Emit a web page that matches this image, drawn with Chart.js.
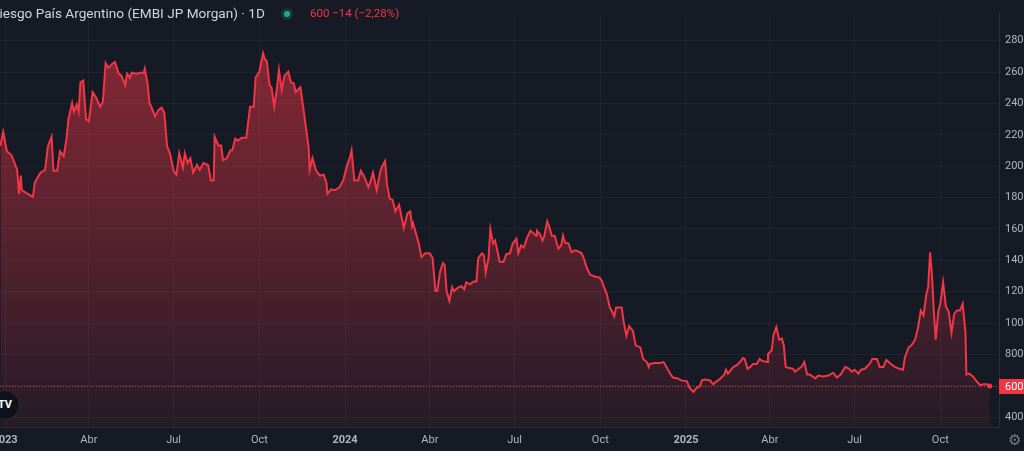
<!DOCTYPE html>
<html lang="es">
<head>
  <meta charset="UTF-8">
  <title>Riesgo País Argentino (EMBI JP Morgan)</title>
  <script src="https://cdn.jsdelivr.net/npm/chart.js"></script>
  <style>
    body { margin: 0; background: #ffffff; overflow: hidden; font-family: Roboto, "Noto Sans", sans-serif; }
    #wrap { position: absolute; left: 0; top: 0; width: 1024px; height: 451px; background: #161a25; overflow: hidden; }
    #lienzo { position: absolute; left: 0; top: 0; width: 1045px; height: 451px; }
    #titulo { position: absolute; left: -9px; top: 5px; font-size: 13.6px; color: #d1d4dc; white-space: nowrap; }
    #punto { position: absolute; left: 281px; top: 8px; width: 12px; height: 12px; border-radius: 50%; background: #123a33; }
    #punto span { position: absolute; left: 3px; top: 3px; width: 6px; height: 6px; border-radius: 50%; background: #22ab94; }
    #precio { position: absolute; left: 310px; top: 6px; font-size: 11.5px; color: #f23645; white-space: nowrap; }
    #logo { position: absolute; left: -10px; top: 390px; width: 28px; height: 28px; border-radius: 50%; background: #0f121a; border: 1px solid #2a2e39; color: #fff; font-weight: bold; font-size: 11px; line-height: 28px; text-align: center; }
    #engranaje { position: absolute; left: 1008px; top: 431px; font-size: 15px; color: #787b86; }
  </style>
</head>
<body>
  <div id="wrap">
    <div id="lienzo"><canvas id="grafico"></canvas></div>
    <div id="titulo">Riesgo País Argentino (EMBI JP Morgan) · 1D</div>
    <div id="punto"><span></span></div>
    <div id="precio">600 −14 (−2,28%)</div>
    <div id="logo">TV</div>
    <div id="engranaje">⚙</div>
  </div>
  <script>
    const fechas = [
      '2022-12-27','2022-12-30','2023-01-03','2023-01-08','2023-01-14','2023-01-16','2023-01-18','2023-01-19','2023-01-24','2023-01-31',
      '2023-02-02','2023-02-08','2023-02-13','2023-02-16','2023-02-20','2023-02-22','2023-02-26','2023-03-01','2023-03-05','2023-03-08',
      '2023-03-10','2023-03-14','2023-03-16','2023-03-19','2023-03-21','2023-03-23','2023-03-26','2023-03-29','2023-04-01','2023-04-05',
      '2023-04-09','2023-04-13','2023-04-16','2023-04-19','2023-04-22','2023-04-26','2023-04-29','2023-05-03','2023-05-06','2023-05-10',
      '2023-05-12','2023-05-15','2023-05-17','2023-05-22','2023-05-26','2023-05-30','2023-05-31','2023-06-03','2023-06-05','2023-06-07',
      '2023-06-11','2023-06-15','2023-06-18','2023-06-21','2023-06-24','2023-06-27','2023-07-01','2023-07-04','2023-07-07','2023-07-11',
      '2023-07-13','2023-07-16','2023-07-19','2023-07-22','2023-07-26','2023-07-29','2023-08-02','2023-08-07','2023-08-10','2023-08-13',
      '2023-08-14','2023-08-18','2023-08-21','2023-08-23','2023-08-27','2023-08-31','2023-09-02','2023-09-05','2023-09-08','2023-09-12',
      '2023-09-17','2023-09-21','2023-09-25','2023-09-27','2023-10-01','2023-10-05','2023-10-07','2023-10-09','2023-10-12','2023-10-14',
      '2023-10-17','2023-10-20','2023-10-22','2023-10-25','2023-10-28','2023-11-01','2023-11-04','2023-11-07','2023-11-09','2023-11-14',
      '2023-11-17','2023-11-20','2023-11-23','2023-11-24','2023-11-27','2023-12-01','2023-12-05','2023-12-09','2023-12-12','2023-12-13',
      '2023-12-17','2023-12-21','2023-12-26','2023-12-30','2024-01-03','2024-01-06','2024-01-08','2024-01-11','2024-01-15','2024-01-18',
      '2024-01-22','2024-01-26','2024-01-28','2024-01-31','2024-02-04','2024-02-08','2024-02-10','2024-02-13','2024-02-15','2024-02-18',
      '2024-02-21','2024-02-24','2024-02-28','2024-03-04','2024-03-08','2024-03-11','2024-03-13','2024-03-14','2024-03-17','2024-03-20',
      '2024-03-23','2024-03-27','2024-04-01','2024-04-04','2024-04-07','2024-04-09','2024-04-12','2024-04-15','2024-04-17','2024-04-19',
      '2024-04-22','2024-04-25','2024-04-27','2024-05-02','2024-05-05','2024-05-08','2024-05-10','2024-05-14','2024-05-18','2024-05-21',
      '2024-05-23','2024-05-27','2024-05-29','2024-05-31','2024-06-03','2024-06-05','2024-06-08','2024-06-10','2024-06-12','2024-06-15',
      '2024-06-19','2024-06-22','2024-06-26','2024-06-29','2024-07-03','2024-07-05','2024-07-08','2024-07-11','2024-07-14','2024-07-18',
      '2024-07-21','2024-07-24','2024-07-25','2024-07-28','2024-07-31','2024-08-02','2024-08-05','2024-08-07','2024-08-10','2024-08-13',
      '2024-08-17','2024-08-20','2024-08-22','2024-08-24','2024-08-28','2024-08-31','2024-09-04','2024-09-07','2024-09-11','2024-09-14',
      '2024-09-16','2024-09-20','2024-09-25','2024-09-30','2024-10-03','2024-10-05','2024-10-08','2024-10-11','2024-10-16','2024-10-18',
      '2024-10-24','2024-10-26','2024-10-29','2024-11-01','2024-11-05','2024-11-08','2024-11-13','2024-11-16','2024-11-20','2024-11-22',
      '2024-11-23','2024-11-29','2024-12-04','2024-12-08','2024-12-11','2024-12-15','2024-12-18','2024-12-23','2024-12-27','2025-01-02',
      '2025-01-05','2025-01-09','2025-01-12','2025-01-16','2025-01-18','2025-01-21','2025-01-27','2025-01-30','2025-02-03','2025-02-07',
      '2025-02-11','2025-02-13','2025-02-15','2025-02-21','2025-02-25','2025-02-28','2025-03-03','2025-03-05','2025-03-08','2025-03-11',
      '2025-03-14','2025-03-18','2025-03-21','2025-03-24','2025-03-29','2025-03-30','2025-04-03','2025-04-05','2025-04-08','2025-04-11',
      '2025-04-14','2025-04-16','2025-04-18','2025-04-21','2025-04-26','2025-04-28','2025-05-02','2025-05-05','2025-05-08','2025-05-11',
      '2025-05-14','2025-05-20','2025-05-23','2025-05-28','2025-06-03','2025-06-08','2025-06-12','2025-06-16','2025-06-21','2025-06-25',
      '2025-06-28','2025-07-01','2025-07-05','2025-07-08','2025-07-12','2025-07-17','2025-07-20','2025-07-25','2025-07-28','2025-08-01',
      '2025-08-04','2025-08-09','2025-08-13','2025-08-18','2025-08-22','2025-08-24','2025-08-28','2025-08-31','2025-09-04','2025-09-07',
      '2025-09-10','2025-09-13','2025-09-16','2025-09-18','2025-09-20','2025-09-22','2025-09-24','2025-09-26','2025-09-29','2025-10-01',
      '2025-10-04','2025-10-07','2025-10-10','2025-10-13','2025-10-16','2025-10-19','2025-10-22','2025-10-25','2025-10-28','2025-10-29',
      '2025-11-01','2025-11-05','2025-11-09','2025-11-13','2025-11-16','2025-11-20','2025-11-23'
    ];
    const riesgo = [
      2130,2218,2095,2070,1977,1823,1940,1847,1829,1804,
      1897,1959,1977,2126,2188,1971,1971,2095,2064,2175,
      2299,2404,2348,2392,2348,2534,2546,2299,2287,2472,
      2435,2379,2410,2658,2627,2652,2664,2590,2577,2515,
      2590,2565,2596,2590,2596,2596,2621,2528,2404,2379,
      2317,2361,2373,2342,2126,2082,1971,1946,2082,1990,
      2082,2020,2051,1959,2008,1977,2020,2008,1909,1909,
      2188,2132,2132,2039,2051,2101,2101,2175,2163,2181,
      2181,2379,2379,2565,2602,2720,2682,2670,2515,2503,
      2379,2503,2614,2485,2577,2602,2534,2528,2472,2503,
      2379,2249,2113,1977,2051,1971,1940,1946,1897,1823,
      1853,1847,1866,1909,2002,2051,2101,1909,1909,1971,
      1928,1866,1897,1959,1847,1971,2002,2033,1884,1792,
      1786,1711,1754,1606,1699,1711,1618,1637,1575,1513,
      1420,1445,1445,1414,1204,1204,1328,1383,1371,1204,
      1142,1229,1204,1229,1235,1216,1260,1247,1266,1266,
      1414,1445,1433,1322,1414,1600,1507,1526,1476,1390,
      1390,1439,1445,1507,1538,1445,1495,1482,1538,1588,
      1575,1557,1588,1569,1526,1557,1649,1618,1557,1557,
      1476,1495,1557,1513,1507,1451,1464,1458,1445,1402,
      1359,1309,1297,1291,1266,1229,1185,1105,1043,1099,
      1099,1012,919,981,950,858,845,771,752,721,
      740,746,746,752,721,678,653,647,635,629,
      585,561,585,598,635,641,635,610,629,647,
      672,703,678,721,734,752,777,771,709,721,
      740,740,771,758,752,802,827,926,975,895,
      901,858,721,715,709,690,709,721,752,672,
      672,647,666,660,666,684,653,672,721,709,
      690,703,678,703,709,740,771,771,721,721,
      765,740,721,709,703,783,845,858,895,969,
      1080,1049,1185,1229,1451,1309,1080,895,1080,1124,
      1260,1105,1074,938,1062,1080,1080,1124,938,672,
      678,660,629,604,610,610,600
    ];
    const fechasTicks = ['2023-01-01','2023-04-01','2023-07-01','2023-10-01','2024-01-01','2024-04-01',
                         '2024-07-01','2024-10-01','2025-01-01','2025-04-01','2025-07-01','2025-10-01'];
    const etiquetasX = ['2023','Abr','Jul','Oct','2024','Abr','Jul','Oct','2025','Abr','Jul','Oct'];
    const ticksY = [400, 600, 800, 1000, 1200, 1400, 1600, 1800, 2000, 2200, 2400, 2600, 2800];

    // dias desde el 1 ene 2023
    function dia(f) {
      var p = f.split('-');
      return (Date.UTC(+p[0], +p[1] - 1, +p[2]) - Date.UTC(2023, 0, 1)) / 86400000;
    }

    var puntos = fechas.map(function(f, i) { return { x: dia(f), y: riesgo[i] }; });
    var ultimo = riesgo[riesgo.length - 1];

    var lineaPrecio = {
      id: 'lineaPrecio',
      afterDatasetsDraw: function(chart) {
        var ctx = chart.ctx, a = chart.chartArea;
        var y = Math.round(chart.scales.y.getPixelForValue(ultimo)) + 0.5;
        ctx.save();
        ctx.strokeStyle = '#f23645';
        ctx.lineWidth = 1;
        ctx.setLineDash([1, 2]);
        ctx.beginPath();
        ctx.moveTo(0, y);
        ctx.lineTo(a.right, y);
        ctx.stroke();
        ctx.setLineDash([]);
        ctx.fillStyle = '#f23645';
        ctx.fillRect(a.right, y - 7.5, chart.width - a.right, 15);
        ctx.fillStyle = '#ffffff';
        ctx.font = '11px Roboto, sans-serif';
        ctx.textBaseline = 'middle';
        ctx.fillText(String(ultimo), a.right + 6, y + 0.5);
        ctx.restore();
      }
    };

    document.addEventListener('DOMContentLoaded', function() {
      var ctx = document.getElementById('grafico').getContext('2d');
      var grafico = new Chart(ctx, {
        type: 'line',
        data: {
          datasets: [{
            label: 'Riesgo País Argentino',
            data: puntos,
            borderColor: '#f23645',
            borderWidth: 2,
            tension: 0,
            fill: 'start',
            backgroundColor: function(c) {
              var a = c.chart.chartArea;
              if (!a) return 'rgba(242,54,69,0.3)';
              var g = c.chart.ctx.createLinearGradient(0, a.top, 0, a.bottom);
              g.addColorStop(0, 'rgba(242,54,69,0.55)');
              g.addColorStop(1, 'rgba(242,54,69,0.07)');
              return g;
            },
            pointRadius: function(c) { return c.dataIndex === riesgo.length - 1 ? 2.5 : 0; },
            pointBackgroundColor: '#f23645',
            pointBorderWidth: 0
          }]
        },
        options: {
          responsive: true,
          maintainAspectRatio: false,
          animation: false,
          layout: { padding: 0, autoPadding: false },
          plugins: { legend: { display: false }, tooltip: { enabled: false } },
          scales: {
            x: {
              type: 'linear',
              min: -5.4,
              max: 1067,
              afterBuildTicks: function(s) { s.ticks = fechasTicks.map(function(f) { return { value: dia(f) }; }); },
              afterFit: function(s) { s.height = 24; s.paddingLeft = 0; s.paddingRight = 0; },
              grid: { color: '#1f2330', drawTicks: false },
              border: { color: '#2a2e39' },
              ticks: {
                autoSkip: false,
                maxRotation: 0,
                padding: 7,
                color: '#b2b5be',
                font: function(c) {
                  return { size: 11, family: 'Roboto', weight: /^\d{4}$/.test(etiquetasX[c.index]) ? 'bold' : 'normal' };
                },
                callback: function(v, i) { return etiquetasX[i]; }
              }
            },
            y: {
              position: 'right',
              min: 338,
              max: 2979,
              afterBuildTicks: function(s) { s.ticks = ticksY.map(function(v) { return { value: v }; }); },
              afterFit: function(s) { s.width = 46; },
              grid: { color: '#1f2330', drawTicks: false },
              border: { color: '#2a2e39' },
              ticks: {
                padding: 6,
                color: '#b2b5be',
                font: { size: 11, family: 'Roboto' },
                callback: function(v) { return String(v); }
              }
            }
          }
        },
        plugins: [lineaPrecio]
      });

      // el area de trazado va de x=0 a x=999, como en la captura
      var cont = document.getElementById('lienzo');
      for (var k = 0; k < 3; k++) {
        var a = grafico.chartArea;
        var izq = -a.left;
        var ancho = cont.offsetWidth + (999 - (izq + a.right));
        cont.style.left = izq + 'px';
        cont.style.width = ancho + 'px';
        grafico.resize();
      }
    });
  </script>
</body>
</html>
